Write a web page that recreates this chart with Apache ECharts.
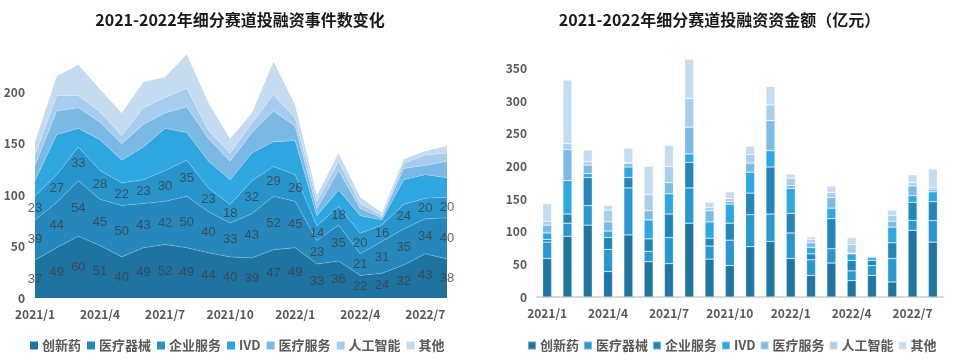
<!DOCTYPE html>
<html>
<head>
<meta charset="utf-8">
<script src="https://cdn.jsdelivr.net/npm/echarts@6/dist/echarts.min.js"></script>
<style>
html,body{margin:0;padding:0;background:#fff;}
#wrap{width:959px;height:362px;position:relative;}
#left{position:absolute;left:0;top:0;width:480px;height:362px;}
#right{position:absolute;left:480px;top:0;width:479px;height:362px;}
</style>
</head>
<body>
<div id="wrap"><div id="left"></div><div id="right"></div></div>
<script>
// ---- categories ----
const months = ['2021/1','2021/2','2021/3','2021/4','2021/5','2021/6','2021/7','2021/8','2021/9','2021/10','2021/11','2021/12','2022/1','2022/2','2022/3','2022/4','2022/5','2022/6','2022/7','2022/8'];
const seriesNames = ['创新药','医疗器械','企业服务','IVD','医疗服务','人工智能','其他'];

// ---- left: 投融资事件数 ----
const cntDrug    = [37,49,60,51,40,49,52,49,44,40,39,47,49,33,36,22,24,32,43,38];
const cntDevice  = [39,44,54,45,50,43,42,50,40,33,43,52,45,23,35,21,31,35,34,40];
const cntService = [23,27,33,28,22,23,30,35,23,18,32,29,26,14,18,20,16,24,20,20];
const cntIVD     = [15,39,18,30,22,32,41,27,26,24,27,24,33,10,16,17,5,24,23,19];
const cntMedSvc  = [15,23,20,17,16,22,15,25,22,18,20,30,14,7,19,7,2,11,9,16];
const cntAI      = [10,15,12,10,8,16,15,18,8,8,9,16,8,7,9,5,2,5,10,8];
const cntOther   = [13,19,30,22,22,25,20,33,27,14,10,32,13,6,8,6,3,4,4,7];

// ---- right: 投融资资金额（亿元） ----
const amtDrug    = [59,93,110,39,95,54,51,113,58,48,77,85,59,33,52,25,33,23,102,84];
const amtDevice  = [25,20,30,34,72,16,40,54,20,39,49,42,39,24,22,15,15,36,15,33];
const amtService = [4,14,43,18,16,19,36,39,12,26,33,72,30,9,46,16,8,24,28,29];
const amtIVD     = [10,51,6,10,16,29,31,13,25,29,32,25,38,10,16,10,5,24,10,15];
const amtMedSvc  = [12,48,13,14,5,14,17,41,17,4,14,46,5,7,16,1,1,9,15,4];
const amtAI      = [6,9,5,18,2,25,25,44,5,5,13,24,11,5,8,13,1,9,5,3];
const amtOther   = [27,97,18,7,22,43,32,60,8,10,13,28,6,4,10,11,1,8,12,28];

// y-axis ticks
const leftTicks = [0,50,100,150,200];
const rightTicks = [0,50,100,150,200,250,300,350];

const FONT = '"Noto Sans CJK SC","Noto Sans",sans-serif';
const leftColors  = ['#1f73a0','#2587bb','#2794cb','#2ea6df','#7ab9e4','#a7cdee','#c4dbf0'];
const rightColors = ['#1f76a2','#2899d0','#2286ba','#2ea8e2','#7cbbe6','#a9cfee','#c5dcf1'];

const cntData = [cntDrug,cntDevice,cntService,cntIVD,cntMedSvc,cntAI,cntOther];
const amtData = [amtDrug,amtDevice,amtService,amtIVD,amtMedSvc,amtAI,amtOther];

function legendCfg(left, width, gap){
  return {
    data: seriesNames, left: left, top: 334, width: width, itemWidth: 8, itemHeight: 8, itemGap: gap,
    icon: 'rect',
    textStyle: {fontFamily: FONT, fontSize: 13, fontWeight: 'bold', color: '#595959', padding:[0,0,0,-1]}
  };
}
function xAxisCfg(boundaryGap, showLine){
  return {
    type: 'category', data: months, boundaryGap: boundaryGap,
    axisLine: {show: showLine, lineStyle: {color: '#d9d9d9', width: 2}},
    axisTick: {show: false},
    axisLabel: {interval: 2, color: '#595959', fontFamily: FONT, fontSize: 12, fontWeight: 'bold', margin: 10}
  };
}
function yAxisCfg(max, ticks){
  return {
    type: 'value', min: 0, max: max, interval: 50,
    axisLine: {show: false}, axisTick: {show: false}, splitLine: {show: false},
    axisLabel: {color: '#595959', fontFamily: FONT, fontSize: 12, fontWeight: 'bold', margin: 10,
      formatter: v => ticks.indexOf(v) >= 0 ? String(v) : ''}
  };
}

// ---------- left chart ----------
const leftChart = echarts.init(document.getElementById('left'), null, {renderer: 'canvas'});
const leftSeries = seriesNames.map((n, k) => ({
  name: n, type: 'line', stack: 'total', data: cntData[k],
  symbol: 'none', smooth: false,
  lineStyle: {width: 0.8, color: 'rgba(255,255,255,0.25)'},
  areaStyle: {color: leftColors[k], opacity: 1},
  itemStyle: {color: leftColors[k]},
  z: 2
}));
// labels placed in the middle of the first three bands
for (let k = 0; k < 3; k++) {
  const arr = cntData[k];
  const pts = arr.map((v, i) => {
    let base = 0;
    for (let j = 0; j < k; j++) base += cntData[j][i];
    return [i, base + v / 2];
  });
  leftSeries.push({
    name: 'lbl' + k, type: 'scatter', data: pts, symbolSize: 1, silent: true, clip: false,
    itemStyle: {color: 'rgba(0,0,0,0)'}, z: 10,
    labelLayout: {hideOverlap: false},
    label: {show: true, position: 'inside', formatter: p => String(arr[p.dataIndex]),
      color: '#404040', fontFamily: '"Liberation Sans",Arial,sans-serif', fontSize: 13}
  });
}
leftChart.setOption({
  animation: false,
  title: {text: '2021-2022年细分赛道投融资事件数变化', left: 'center', top: 7,
    textStyle: {fontFamily: FONT, fontSize: 16, fontWeight: 'bold', color: '#1a1a1a'}},
  legend: legendCfg(25, 450, 6),
  grid: {left: 35, right: 33, top: 41, bottom: 64},
  xAxis: xAxisCfg(false, false),
  yAxis: yAxisCfg(250, leftTicks),
  series: leftSeries
});

// ---------- right chart ----------
const rightChart = echarts.init(document.getElementById('right'), null, {renderer: 'canvas'});
rightChart.setOption({
  animation: false,
  title: {text: '2021-2022年细分赛道投融资资金额（亿元）', left: 'center', top: 7,
    textStyle: {fontFamily: FONT, fontSize: 16, fontWeight: 'bold', color: '#1a1a1a'}},
  legend: legendCfg(42, 437, 4),
  grid: {left: 57, right: 16, top: 54, bottom: 65},
  xAxis: xAxisCfg(true, true),
  yAxis: yAxisCfg(372, rightTicks),
  series: seriesNames.map((n, k) => ({
    name: n, type: 'bar', stack: 'amt', data: amtData[k], barWidth: 9,
    itemStyle: {color: rightColors[k], borderColor: 'rgba(255,255,255,0.35)', borderWidth: 0.6}
  }))
});
</script>
</body>
</html>
